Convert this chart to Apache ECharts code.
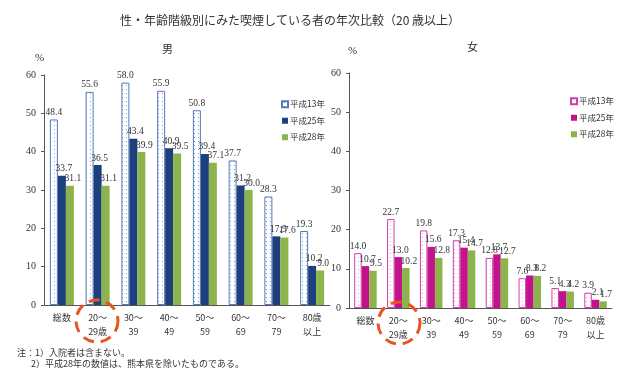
<!DOCTYPE html>
<html><head><meta charset="utf-8">
<script src="https://cdn.jsdelivr.net/npm/echarts@6/dist/echarts.min.js"></script>
<style>html,body{margin:0;padding:0;background:#fff}#c{width:640px;height:377px}</style>
</head><body><div id="c"></div>
<script>
var categories = ['総数','20～\n29歳','30～\n39','40～\n49','50～\n59','60～\n69','70～\n79','80歳\n以上'];
var yTicks = [0,10,20,30,40,50,60];
var legendNames = ['平成13年','平成25年','平成28年'];
var maleH13 = [48.4,55.6,58.0,55.9,50.8,37.7,28.3,19.3];
var maleH25 = [33.7,36.5,43.4,40.9,39.4,31.2,17.9,10.2];
var maleH28 = [31.1,31.1,39.9,39.5,37.1,30.0,17.6,9.0];
var femaleH13 = [14.0,22.7,19.8,17.3,12.8,7.6,5.1,3.9];
var femaleH25 = [10.7,13.0,15.6,15.4,13.7,8.3,4.3,2.1];
var femaleH28 = [9.5,10.2,12.8,14.7,12.7,8.2,4.2,1.7];

function pattern(dot){
  var c=document.createElement('canvas');c.width=4;c.height=4;
  var g=c.getContext('2d');g.fillStyle='#fff';g.fillRect(0,0,4,4);
  g.fillStyle=dot;g.fillRect(2,1,1,1);
  return {image:c,repeat:'repeat'};
}
var fName = legendNames.map(function(n){return n+'\u200b';});
var serif = 'Liberation Serif';
var cjk = 'Noto Sans CJK JP';
function lbl(off){
  return {show:true,position:'top',distance:2,offset:off,fontFamily:serif,fontSize:9.5,color:'#333',
    formatter:function(p){return p.value.toFixed(1);}};
}
function yAx(gi){
  return {type:'value',gridIndex:gi,min:0,max:60,interval:10,
    axisLine:{show:true,lineStyle:{color:'#555'}},axisTick:{show:true,length:3,lineStyle:{color:'#555'}},
    splitLine:{show:false},axisLabel:{fontFamily:serif,fontSize:10,color:'#333',margin:8}};
}
function xAx(gi){
  return {type:'category',gridIndex:gi,data:categories,
    axisLine:{lineStyle:{color:'#555'}},axisTick:{show:false},
    axisLabel:{fontFamily:cjk,fontSize:9,color:'#333',lineHeight:14,margin:6,interval:0}};
}
var chart = echarts.init(document.getElementById('c'));
chart.setOption({
  animation:false,
  backgroundColor:'#fff',
  title:{text:'性・年齢階級別にみた喫煙している者の年次比較（20 歳以上）',left:285,textAlign:'center',top:9,
    textStyle:{fontFamily:cjk,fontSize:12,fontWeight:'normal',color:'#333'}},
  grid:[{left:44,right:310,top:75,bottom:72},{left:349,right:28,top:73,bottom:69}],
  xAxis:[xAx(0),xAx(1)],
  yAxis:[yAx(0),yAx(1)],
  legend:[
    {data:legendNames,orient:'vertical',left:276,top:95,itemWidth:6,itemHeight:6,itemGap:8,icon:'rect',
     textStyle:{fontFamily:cjk,fontSize:8.5,color:'#333',padding:[0,0,0,-3]},selectedMode:false},
    {data:fName,orient:'vertical',left:565,top:92,itemWidth:6,itemHeight:6,itemGap:8,icon:'rect',
     textStyle:{fontFamily:cjk,fontSize:8.5,color:'#333',padding:[0,0,0,-3]},selectedMode:false}
  ],
  series:[
    {name:legendNames[0],type:'bar',xAxisIndex:0,yAxisIndex:0,data:maleH13,barWidth:8,barGap:'0%',
     itemStyle:{color:pattern('#7f9fd6'),borderColor:'#5577bb',borderWidth:1},label:lbl([0,0])},
    {name:legendNames[1],type:'bar',xAxisIndex:0,yAxisIndex:0,data:maleH25,barWidth:8,barGap:'0%',
     itemStyle:{color:'#1e3f7d'},label:lbl([2,0])},
    {name:legendNames[2],type:'bar',xAxisIndex:0,yAxisIndex:0,data:maleH28,barWidth:8,barGap:'0%',
     itemStyle:{color:'#8db44c'},label:lbl([3,0])},
    {name:fName[0],type:'bar',xAxisIndex:1,yAxisIndex:1,data:femaleH13,barWidth:7.5,barGap:'0%',
     itemStyle:{color:pattern('#e69ad2'),borderColor:'#d040a8',borderWidth:1},label:lbl([0,0])},
    {name:fName[1],type:'bar',xAxisIndex:1,yAxisIndex:1,data:femaleH25,barWidth:7.5,barGap:'0%',
     itemStyle:{color:'#c2128c'},label:lbl([2,0])},
    {name:fName[2],type:'bar',xAxisIndex:1,yAxisIndex:1,data:femaleH28,barWidth:7.5,barGap:'0%',
     itemStyle:{color:'#8db44c'},label:lbl([3,0])}
  ],
  graphic:[
    {type:'text',left:162,top:43,style:{text:'男',font:'11px "Noto Sans CJK JP"',fill:'#333'}},
    {type:'text',left:467,top:41,style:{text:'女',font:'11px "Noto Sans CJK JP"',fill:'#333'}},
    {type:'text',left:35,top:53,style:{text:'%',font:'11px "Liberation Serif"',fill:'#333'}},
    {type:'text',left:348,top:46,style:{text:'%',font:'11px "Liberation Serif"',fill:'#333'}},
    {type:'circle',shape:{cx:97,cy:321,r:21},style:{fill:null,stroke:'#e8541e',lineWidth:3,lineDash:[11,7]},z:100},
    {type:'circle',shape:{cx:399,cy:323,r:21},style:{fill:null,stroke:'#e8541e',lineWidth:3,lineDash:[11,7]},z:100},
    {type:'text',left:17,top:348,style:{text:'注：1）入院者は含まない。',font:'9px "Noto Sans CJK JP"',fill:'#333'}},
    {type:'text',left:31,top:359,style:{text:'2）平成28年の数値は、熊本県を除いたものである。',font:'9px "Noto Sans CJK JP"',fill:'#333'}}
  ]
});
</script></body></html>
